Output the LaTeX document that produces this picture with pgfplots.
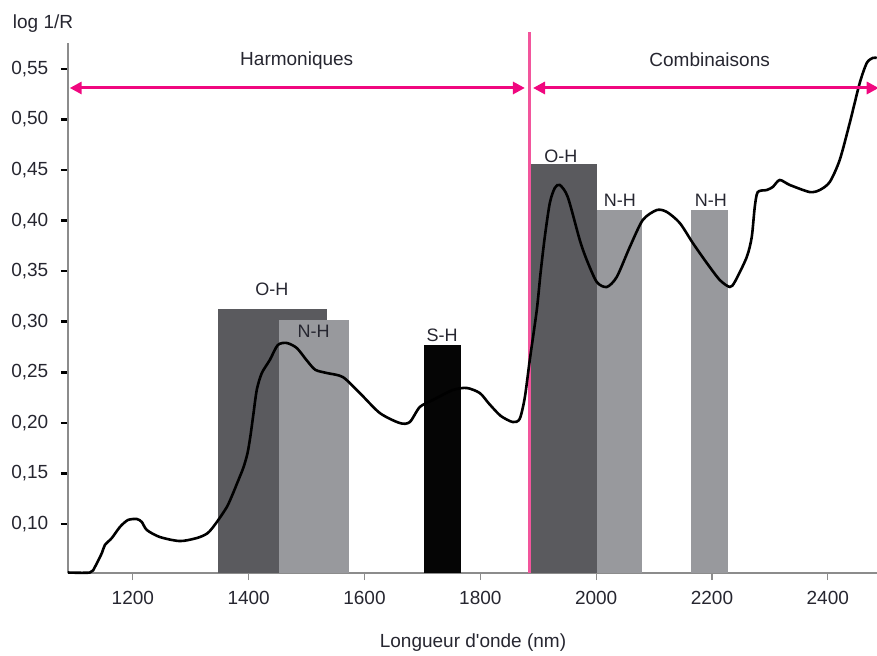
\documentclass[border=0pt]{standalone}
\usepackage{pgfplots}
\pgfplotsset{compat=1.18}
\usepackage{fontspec}
\setmainfont{Liberation Sans}
\usetikzlibrary{arrows.meta}
\definecolor{ohcol}{HTML}{5A5A5E}
\definecolor{nhcol}{HTML}{98999D}
\definecolor{shcol}{HTML}{050505}
\definecolor{arrcol}{HTML}{F0077F}
\definecolor{vlcol}{HTML}{F2559C}
\definecolor{axcol}{HTML}{8C8C8C}
\definecolor{txtcol}{HTML}{262630}
\begin{document}
\fontsize{9.5}{11}\selectfont
\begin{tikzpicture}
\path[use as bounding box] (-34pt,-41pt) rectangle (404.5pt,286.5pt);
\begin{axis}[
  at={(0pt,0pt)}, anchor=south west,
  scale only axis, width=404.5pt, height=265pt,
  xmin=1088, xmax=2485, ymin=0.0515, ymax=0.5757,
  axis lines*=left,
  axis line style={draw=axcol, line width=0.75pt},
  clip=false,
  xtick={1200,1400,...,2400},
  ytick={0.10,0.15,...,0.56},
  x tick style={draw=axcol, line width=0.6pt},
  y tick style={draw=black, line width=1.3pt},
  major tick length=3.5pt,
  tick align=outside,
  xticklabel style={yshift=-2pt, text=txtcol},
  yticklabel style={xshift=-3pt, text=txtcol},
  /pgf/number format/assume math mode=true,
  x tick label style={/pgf/number format/.cd, 1000 sep={}},
  y tick label style={/pgf/number format/.cd, use comma, fixed, fixed zerofill, precision=2},
]
% bars
\addplot[fill=ohcol, draw=none] coordinates {(1347,0.0515) (1347,0.313) (1535,0.313) (1535,0.0515)} -- cycle;
\addplot[fill=nhcol, draw=none] coordinates {(1452,0.0515) (1452,0.3017) (1573,0.3017) (1573,0.0515)} -- cycle;
\addplot[fill=shcol, draw=none] coordinates {(1702,0.0515) (1702,0.277) (1766,0.277) (1766,0.0515)} -- cycle;
\addplot[fill=ohcol, draw=none] coordinates {(1885,0.0515) (1885,0.456) (2001,0.456) (2001,0.0515)} -- cycle;
\addplot[fill=nhcol, draw=none] coordinates {(2001,0.0515) (2001,0.4105) (2080,0.4105) (2080,0.0515)} -- cycle;
\addplot[fill=nhcol, draw=none] coordinates {(2163,0.0515) (2163,0.4105) (2228,0.4105) (2228,0.0515)} -- cycle;
% separator line
\draw[draw=vlcol, line width=1.1pt] (axis cs:1885,0.0515) -- (axis cs:1885,0.5866);
% spectrum
\addplot[black, line width=1.3pt, smooth, tension=0.45] coordinates {
(1087.8,0.052) (1125.8,0.052) (1134.4,0.0574) (1146.5,0.0713) (1151.7,0.0792)
(1163.7,0.0861) (1177.6,0.097) (1191.4,0.1039) (1206.9,0.1049) (1215.5,0.1019)
(1224.2,0.094) (1246.6,0.0871) (1281.1,0.0831) (1310.5,0.0861) (1329.5,0.0911)
(1345.0,0.1019) (1362.3,0.1168) (1372,0.1290) (1382,0.1430) (1391,0.1560)
(1398,0.1700) (1403,0.1870) (1408,0.2080) (1414.1,0.2330) (1422.7,0.2493)
(1436.5,0.2622) (1450.3,0.277) (1465.9,0.279) (1483.1,0.274) (1500,0.262)
(1515,0.2525) (1535.0,0.2493) (1562.6,0.2453) (1591.9,0.2295) (1626.5,0.2097)
(1661.0,0.1998) (1678.2,0.2008) (1695.5,0.2157) (1718.0,0.2226) (1752.5,0.2325)
(1776.7,0.2345) (1799.1,0.2295) (1815,0.2190) (1835,0.2070) (1856.1,0.2008)
(1868,0.2040) (1876.8,0.2250) (1885.4,0.2622) (1897.5,0.3116) (1904,0.3480)
(1911.3,0.3838) (1920.0,0.4175) (1928.6,0.4323) (1937.2,0.4353) (1951.0,0.4234)
(1971.7,0.3809) (1983.8,0.3611) (2001.1,0.3393) (2018.4,0.3344) (2035.6,0.3443)
(2058.1,0.3739) (2080.5,0.4006) (2104.7,0.4105) (2122.0,0.4086) (2144.4,0.3977)
(2166.9,0.3779) (2191.1,0.3581) (2213.5,0.3413) (2230.8,0.3344) (2240,0.3400)
(2260.1,0.364) (2268.7,0.3838) (2273.9,0.4135) (2279.1,0.4283) (2294.6,0.4303)
(2305.0,0.4333) (2317.0,0.4402) (2334.3,0.4353) (2368.8,0.4283) (2386.1,0.4303)
(2403.4,0.4382) (2420.6,0.46) (2437.9,0.4966) (2455.2,0.5362) (2467.3,0.5559)
(2477.6,0.5609) (2484.5,0.5609)
};
% arrows
\draw[arrcol, line width=1.5pt, {Triangle[length=6pt,width=6pt]}-{Triangle[length=6pt,width=6pt]}] (axis cs:1091,0.5312) -- (axis cs:1877,0.5312);
\draw[arrcol, line width=1.5pt, {Triangle[length=6pt,width=6pt]}-{Triangle[length=6pt,width=6pt]}] (axis cs:1891,0.5312) -- (axis cs:2488,0.5312);
% labels
\node[anchor=base, text=txtcol] at (axis cs:1483,0.553) {Harmoniques};
\node[anchor=base, text=txtcol] at (axis cs:2196,0.552) {Combinaisons};
\begin{scope}[font=\fontsize{9}{10}\selectfont]
\node[anchor=base, text=txtcol] at (axis cs:1440,0.3255) {O-H};
\node[anchor=base, text=txtcol] at (axis cs:1512,0.284) {N-H};
\node[anchor=base, text=txtcol] at (axis cs:1734,0.28) {S-H};
\node[anchor=base, text=txtcol] at (axis cs:1939,0.458) {O-H};
\node[anchor=base, text=txtcol] at (axis cs:2041,0.4135) {N-H};
\node[anchor=base, text=txtcol] at (axis cs:2198,0.4135) {N-H};
\end{scope}
\end{axis}
\node[anchor=base, text=txtcol] at (-12.5pt,272.5pt) {log 1/R};
\node[anchor=base, text=txtcol] at (202.5pt,-37pt) {Longueur d\textquotesingle onde (nm)};
\end{tikzpicture}
\end{document}
